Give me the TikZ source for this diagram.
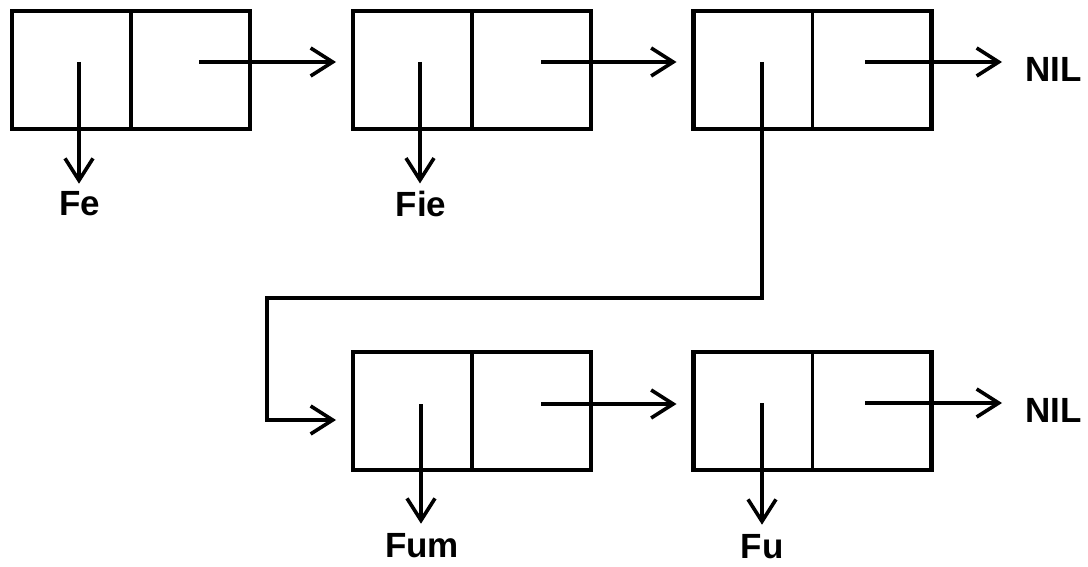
\documentclass[tikz,border=0pt]{standalone}
\usepackage{fontspec}
\setmainfont{Liberation Sans}
\usetikzlibrary{arrows.meta}
\begin{document}
\begin{tikzpicture}[x=1pt,y=-1pt,
  cell/.style={draw, line width=4.6pt, minimum width=238pt, minimum height=118pt,
               inner sep=0pt, outer sep=0pt},
  divider/.style={line width=3.4pt},
  ptr/.style={line width=3.6pt, -{Straight Barb[length=22pt,width=28pt]}},
  lbl/.style={font=\bfseries\fontsize{35}{40}\selectfont, inner sep=0pt, anchor=base},
  nil/.style={lbl, anchor=base west}]
\useasboundingbox (0,0) rectangle (1088,567);

% cons cells
\node[cell] (b1) at (131,70) {};
\node[cell] (b2) at (472,70) {};
\node[cell] (b3) at (812.5,70) {};
\node[cell] (b4) at (472,411) {};
\node[cell] (b5) at (812.5,411) {};
\foreach \b in {b1,b2,b3,b4,b5}
  \draw[divider] (\b.north) -- (\b.south);

% car / cdr pointer origins
\coordinate (a1) at (79,62);    \coordinate (d1) at (199,62);
\coordinate (a2) at (420,62);   \coordinate (d2) at (541,62);
\coordinate (a3) at (762,62);   \coordinate (d3) at (865,62);
\coordinate (a4) at (421,404);  \coordinate (d4) at (541,404);
\coordinate (a5) at (762,403);  \coordinate (d5) at (865,403);

% atoms
\node[lbl] (fe)  at (80,215)  {Fe};
\node[lbl] (fie) at (421,216) {Fie};
\node[lbl] (fum) at (422,557) {Fum};
\node[lbl] (fu)  at (762,558) {Fu};
\node[nil] (nil1) at (1025,82)  {NIL};
\node[nil] (nil2) at (1025,422) {NIL};

% car pointers
\draw[ptr] (a1) -- ([yshift=7pt]a1 |- fe.north);
\draw[ptr] (a2) -- ([yshift=7pt]a2 |- fie.north);
\draw[ptr] (a4) -- ([yshift=9pt]a4 |- fum.north);
\draw[ptr] (a5) -- ([yshift=9pt]a5 |- fu.north);

% cdr pointers
\draw[ptr] (d1) -- ([xshift=-17pt]d1 -| b2.west);
\draw[ptr] (d2) -- ([xshift=-17pt]d2 -| b3.west);
\draw[ptr] (d3) -- ([xshift=-23pt]d3 -| nil1.west);
\draw[ptr] (d4) -- ([xshift=-17pt]d4 -| b5.west);
\draw[ptr] (d5) -- ([xshift=-23pt]d5 -| nil2.west);

% car of the third cell points to the sublist
\coordinate (j1) at (267,298);
\coordinate (j2) at (267,420);
\draw[ptr] (a3) |- (j1) -- (j2) -- ([xshift=-17pt]j2 -| b4.west);
\end{tikzpicture}
\end{document}
